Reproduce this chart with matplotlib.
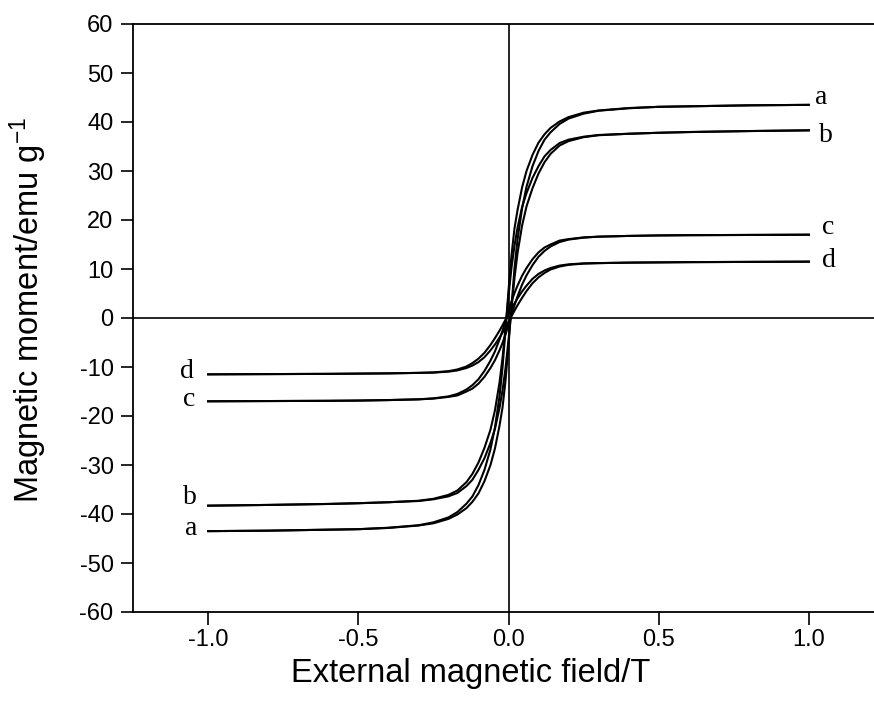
import matplotlib
matplotlib.use("Agg")
import matplotlib.pyplot as plt

plt.rcParams["axes.unicode_minus"] = False
plt.rcParams["mathtext.fontset"] = "custom"
plt.rcParams["mathtext.rm"] = "Liberation Sans"
plt.rcParams["mathtext.it"] = "Liberation Sans:italic"

# field sweep (T), increasing branch; decreasing branch runs the other way
field_up = [-1.0, -0.8, -0.6, -0.5, -0.4, -0.3, -0.25, -0.2, -0.17, -0.14, -0.12, -0.1,
            -0.08, -0.06, -0.045, -0.03, -0.02, -0.01, 0.0, 0.01, 0.02, 0.03, 0.045,
            0.06, 0.08, 0.1, 0.12, 0.14, 0.17, 0.2, 0.25, 0.3, 0.4, 0.5, 0.6, 0.8, 1.0]
field_down = field_up[::-1]

# moment (emu/g)
a_up = [-43.5, -43.4, -43.2, -43.1, -42.85, -42.35, -41.9, -41.0, -40.1, -38.8, -37.5, -35.8,
        -33.3, -30.0, -26.6, -22.0, -18.3, -12.8, -5.6, 2.4, 10.2, 16.0, 22.3,
        26.8, 31.0, 34.1, 36.4, 37.9, 39.6, 40.7, 41.7, 42.3, 42.8, 43.1, 43.2, 43.4, 43.5]
a_down = [43.5, 43.4, 43.2, 43.1, 42.85, 42.35, 41.9, 41.0, 40.1, 38.8, 37.5, 35.8,
          33.3, 30.0, 26.6, 22.0, 18.3, 12.8, 5.6, -2.4, -10.2, -16.0, -22.3,
          -26.8, -31.0, -34.1, -36.4, -37.9, -39.6, -40.7, -41.7, -42.3, -42.8, -43.1, -43.2, -43.4, -43.5]

b_up = [-38.3, -38.15, -37.95, -37.8, -37.6, -37.35, -37.0, -36.4, -35.7, -34.3, -33.0, -31.0,
        -28.6, -25.5, -22.6, -18.4, -14.8, -10.3, -4.5, 2.0, 8.2, 13.2, 18.8,
        22.8, 26.5, 29.5, 31.8, 33.5, 35.2, 36.1, 36.9, 37.3, 37.6, 37.8, 37.95, 38.15, 38.3]
b_down = [38.3, 38.15, 37.95, 37.8, 37.6, 37.35, 37.0, 36.4, 35.7, 34.3, 33.0, 31.0,
          28.6, 25.5, 22.6, 18.4, 14.8, 10.3, 4.5, -2.0, -8.2, -13.2, -18.8,
          -22.8, -26.5, -29.5, -31.8, -33.5, -35.2, -36.1, -36.9, -37.3, -37.6, -37.8, -37.95, -38.15, -38.3]

c_up = [-17.0, -16.95, -16.9, -16.85, -16.75, -16.6, -16.45, -16.1, -15.8, -15.0, -14.4, -13.4,
        -12.0, -10.2, -8.6, -6.6, -5.1, -3.4, -1.4, 0.6, 2.6, 4.4, 6.8,
        8.7, 10.8, 12.5, 13.7, 14.6, 15.5, 16.0, 16.4, 16.6, 16.75, 16.85, 16.9, 16.95, 17.0]
c_down = [17.0, 16.95, 16.9, 16.85, 16.75, 16.6, 16.45, 16.1, 15.8, 15.0, 14.4, 13.4,
          12.0, 10.2, 8.6, 6.6, 5.1, 3.4, 1.4, -0.6, -2.6, -4.4, -6.8,
          -8.7, -10.8, -12.5, -13.7, -14.6, -15.5, -16.0, -16.4, -16.6, -16.75, -16.85, -16.9, -16.95, -17.0]

d_up = [-11.5, -11.45, -11.4, -11.35, -11.3, -11.2, -11.15, -10.95, -10.7, -10.2, -9.7, -9.0,
        -8.0, -6.6, -5.4, -4.0, -3.0, -2.0, -0.8, 0.35, 1.5, 2.6, 4.1,
        5.5, 7.1, 8.3, 9.2, 9.9, 10.5, 10.85, 11.1, 11.2, 11.3, 11.35, 11.4, 11.45, 11.5]
d_down = [11.5, 11.45, 11.4, 11.35, 11.3, 11.2, 11.15, 10.95, 10.7, 10.2, 9.7, 9.0,
          8.0, 6.6, 5.4, 4.0, 3.0, 2.0, 0.8, -0.35, -1.5, -2.6, -4.1,
          -5.5, -7.1, -8.3, -9.2, -9.9, -10.5, -10.85, -11.1, -11.2, -11.3, -11.35, -11.4, -11.45, -11.5]

loops = [(a_up, a_down), (b_up, b_down), (c_up, c_down), (d_up, d_down)]

curve_names = ["a", "b", "c", "d"]
right_label_x = [1.04, 1.057, 1.063, 1.067]
right_label_y = [44.9, 37.3, 18.4, 11.8]
left_label_x = [-1.057, -1.06, -1.063, -1.07]
left_label_y = [-42.9, -36.7, -16.7, -11.0]

x_ticks = [-1.0, -0.5, 0.0, 0.5, 1.0]
y_ticks = list(range(-60, 61, 10))

fig = plt.figure(figsize=(8.74, 7.04), dpi=100)
ax = fig.add_axes([133 / 874, 92 / 704, 751 / 874, 588 / 704])

for up, down in loops:
    ax.plot(field_up, up, color="black", linewidth=1.5)
    ax.plot(field_down, down, color="black", linewidth=1.5)

ax.axhline(0, color="black", linewidth=1.2)
ax.axvline(0, color="black", linewidth=1.2)

for name, x, y in zip(curve_names, right_label_x, right_label_y):
    ax.text(x, y, name, family="Liberation Serif", fontsize=20, ha="center", va="center")
for name, x, y in zip(curve_names, left_label_x, left_label_y):
    ax.text(x, y, name, family="Liberation Serif", fontsize=20, ha="center", va="center")

ax.set_xlim(-1.25, 1.25)
ax.set_ylim(-60, 60)
ax.set_xticks(x_ticks)
ax.set_xticklabels([f"{t:.1f}" for t in x_ticks])
ax.set_yticks(y_ticks)

for s in ax.spines.values():
    s.set_linewidth(1.3)

ax.tick_params(direction="out", length=9, width=1.2, labelsize=17)
ax.tick_params(axis="x", pad=3)
ax.tick_params(axis="y", pad=5)
for lbl in ax.get_xticklabels() + ax.get_yticklabels():
    lbl.set_family("Liberation Sans")

ax.set_xlabel("External magnetic field/T", family="Liberation Sans", fontsize=23.5)
ax.set_ylabel("Magnetic moment/emu g$^{\\mathrm{-1}}$", family="Liberation Sans", fontsize=23.5)
ax.xaxis.set_label_coords(0.45, -0.078)
ax.yaxis.set_label_coords(-0.112, 0.514)

fig.savefig("out.png", dpi=100)
